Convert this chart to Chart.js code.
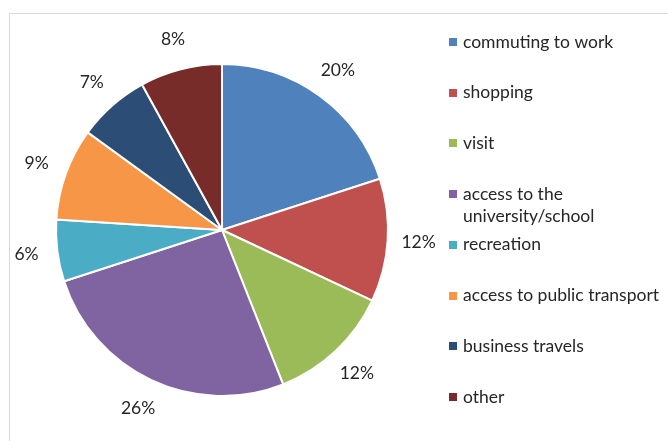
<!DOCTYPE html>
<html>
<head>
<meta charset="utf-8">
<script src="https://cdn.jsdelivr.net/npm/chart.js@4.4.1/dist/chart.umd.min.js"></script>
<style>
  html, body { margin: 0; padding: 0; background: #fff; }
  #wrap { width: 668px; height: 441px; }
</style>
</head>
<body>
<div id="wrap"><canvas id="tripChart" width="668" height="441"></canvas></div>
<script>
// trip purposes, share in percent
var purposes = ['commuting to work', 'shopping', 'visit', ['access to the', 'university/school'],
  'recreation', 'access to public transport', 'business travels', 'other'];
var shares = [20, 12, 12, 26, 6, 9, 7, 8];
var sliceColors = ['#4F81BD', '#C0504D', '#9BBB59', '#8064A2', '#4BACC6', '#F79646', '#2C4D75', '#772C2A'];

var FONT = '17.5px Lato';

// light frame round the chart
var framePlugin = {
  id: 'frame',
  beforeDraw: function (chart) {
    var c = chart.ctx;
    c.save();
    c.strokeStyle = '#D9D9D9';
    c.lineWidth = 1;
    c.beginPath();
    c.moveTo(9.5, chart.height);
    c.lineTo(9.5, 13.5);
    c.lineTo(chart.width, 13.5);
    c.stroke();
    c.restore();
  }
};

// percent labels just outside each slice
var percentLabels = {
  id: 'percentLabels',
  afterDatasetsDraw: function (chart) {
    var c = chart.ctx;
    var meta = chart.getDatasetMeta(0);
    c.save();
    c.font = FONT;
    c.fillStyle = '#262626';
    c.textAlign = 'center';
    c.textBaseline = 'middle';
    meta.data.forEach(function (arc, i) {
      var p = arc.getProps(['x', 'y', 'startAngle', 'endAngle', 'outerRadius'], true);
      var mid = (p.startAngle + p.endAngle) / 2;
      var r = p.outerRadius + 31;
      c.fillText(shares[i] + '%', p.x + Math.cos(mid) * r, p.y + Math.sin(mid) * r);
    });
    c.restore();
  }
};

// legend on the right, one slot per category
var sideLegend = {
  id: 'sideLegend',
  afterDraw: function (chart) {
    var c = chart.ctx;
    var x0 = 449, y0 = 42, step = 50.7;
    c.save();
    c.font = FONT;
    c.textBaseline = 'middle';
    purposes.forEach(function (lab, i) {
      var y = y0 + i * step;
      c.fillStyle = sliceColors[i];
      c.fillRect(x0, Math.round(y) - 4, 8, 8);
      c.fillStyle = '#262626';
      var lines = Array.isArray(lab) ? lab : [lab];
      lines.forEach(function (t, k) {
        c.fillText(t, x0 + 14, y + k * 22);
      });
    });
    c.restore();
  }
};

var ctx = document.getElementById('tripChart').getContext('2d');
var tripChart = new Chart(ctx, {
  type: 'pie',
  data: {
    labels: purposes,
    datasets: [{
      data: shares,
      backgroundColor: sliceColors,
      borderColor: '#FFFFFF',
      borderWidth: 2
    }]
  },
  options: {
    responsive: false,
    animation: false,
    layout: { padding: { left: 55, right: 279, top: 63, bottom: 44 } },
    plugins: {
      legend: { display: false },
      tooltip: { enabled: false }
    }
  },
  plugins: [framePlugin, percentLabels, sideLegend]
});
</script>
</body>
</html>
